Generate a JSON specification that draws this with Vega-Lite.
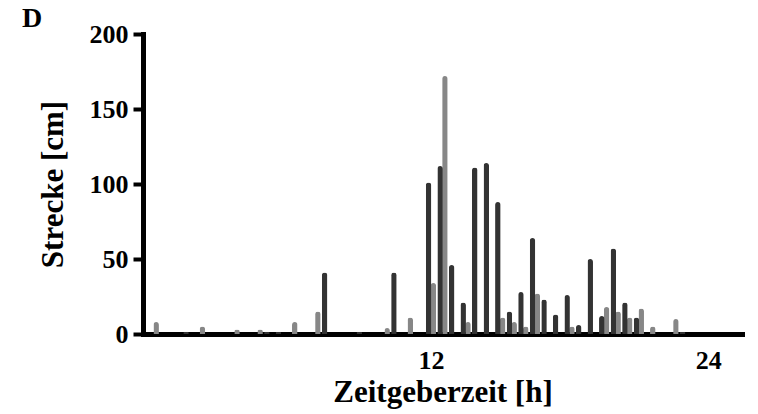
{
  "$schema": "https://vega.github.io/schema/vega-lite/v6.json",
  "width": 599,
  "height": 300,
  "autosize": {"type": "none"},
  "padding": {"left": 143, "top": 34, "right": 16, "bottom": 80},
  "background": "white",
  "title": {
    "text": "D",
    "anchor": "start",
    "frame": "group",
    "font": "Liberation Serif",
    "fontSize": 28,
    "fontWeight": "bold",
    "color": "black",
    "dx": -121,
    "dy": 12,
    "offset": 0
  },
  "config": {
    "view": {"stroke": null},
    "axis": {
      "grid": false,
      "zindex": 1,
      "domainColor": "black",
      "domainWidth": 5,
      "domainCap": "square",
      "tickColor": "black",
      "tickWidth": 4,
      "labelFont": "Liberation Serif",
      "labelFontWeight": "bold",
      "labelFontSize": 26,
      "labelColor": "black",
      "titleFont": "Liberation Serif",
      "titleFontWeight": "bold",
      "titleColor": "black"
    }
  },
  "data": {
    "values": [
      {"stunde": 1.5, "strecke": 1.5, "serie": "dunkel"},
      {"stunde": 5.0, "strecke": 1.5, "serie": "dunkel"},
      {"stunde": 5.5, "strecke": 1.5, "serie": "dunkel"},
      {"stunde": 7.5, "strecke": 41, "serie": "dunkel"},
      {"stunde": 9.0, "strecke": 1.5, "serie": "dunkel"},
      {"stunde": 10.5, "strecke": 41, "serie": "dunkel"},
      {"stunde": 12.0, "strecke": 101, "serie": "dunkel"},
      {"stunde": 12.5, "strecke": 112, "serie": "dunkel"},
      {"stunde": 13.0, "strecke": 46, "serie": "dunkel"},
      {"stunde": 13.5, "strecke": 21, "serie": "dunkel"},
      {"stunde": 14.0, "strecke": 111, "serie": "dunkel"},
      {"stunde": 14.5, "strecke": 114, "serie": "dunkel"},
      {"stunde": 15.0, "strecke": 88, "serie": "dunkel"},
      {"stunde": 15.5, "strecke": 15, "serie": "dunkel"},
      {"stunde": 16.0, "strecke": 28, "serie": "dunkel"},
      {"stunde": 16.5, "strecke": 64, "serie": "dunkel"},
      {"stunde": 17.0, "strecke": 23, "serie": "dunkel"},
      {"stunde": 17.5, "strecke": 13, "serie": "dunkel"},
      {"stunde": 18.0, "strecke": 26, "serie": "dunkel"},
      {"stunde": 18.5, "strecke": 6, "serie": "dunkel"},
      {"stunde": 19.0, "strecke": 50, "serie": "dunkel"},
      {"stunde": 19.5, "strecke": 12, "serie": "dunkel"},
      {"stunde": 20.0, "strecke": 57, "serie": "dunkel"},
      {"stunde": 20.5, "strecke": 21, "serie": "dunkel"},
      {"stunde": 21.0, "strecke": 11, "serie": "dunkel"},
      {"stunde": 23.0, "strecke": 1.5, "serie": "dunkel"},
      {"stunde": 0.0, "strecke": 8, "serie": "hell"},
      {"stunde": 2.0, "strecke": 5, "serie": "hell"},
      {"stunde": 3.5, "strecke": 3, "serie": "hell"},
      {"stunde": 4.5, "strecke": 3, "serie": "hell"},
      {"stunde": 6.0, "strecke": 8, "serie": "hell"},
      {"stunde": 7.0, "strecke": 15, "serie": "hell"},
      {"stunde": 10.0, "strecke": 4, "serie": "hell"},
      {"stunde": 11.0, "strecke": 11, "serie": "hell"},
      {"stunde": 12.0, "strecke": 34, "serie": "hell"},
      {"stunde": 12.5, "strecke": 172, "serie": "hell"},
      {"stunde": 13.5, "strecke": 8, "serie": "hell"},
      {"stunde": 15.0, "strecke": 11, "serie": "hell"},
      {"stunde": 15.5, "strecke": 8, "serie": "hell"},
      {"stunde": 16.0, "strecke": 5, "serie": "hell"},
      {"stunde": 16.5, "strecke": 27, "serie": "hell"},
      {"stunde": 18.0, "strecke": 5, "serie": "hell"},
      {"stunde": 19.5, "strecke": 18, "serie": "hell"},
      {"stunde": 20.0, "strecke": 15, "serie": "hell"},
      {"stunde": 20.5, "strecke": 11, "serie": "hell"},
      {"stunde": 21.0, "strecke": 17, "serie": "hell"},
      {"stunde": 21.5, "strecke": 5, "serie": "hell"},
      {"stunde": 22.5, "strecke": 10, "serie": "hell"}
    ]
  },
  "encoding": {
    "x": {
      "field": "stunde",
      "type": "quantitative",
      "scale": {"domain": [-0.25, 25.25], "nice": false, "zero": false},
      "axis": {
        "values": [12, 24],
        "title": "Zeitgeberzeit [h]",
        "titleFontSize": 31,
        "ticks": false,
        "tickSize": 0,
        "labelPadding": 13,
        "titlePadding": 4
      }
    },
    "y": {
      "field": "strecke",
      "type": "quantitative",
      "scale": {"domain": [0, 200], "nice": false},
      "axis": {
        "values": [0, 50, 100, 150, 200],
        "title": "Strecke [cm]",
        "titleFontSize": 31,
        "tickSize": 10,
        "labelPadding": 5,
        "titlePadding": 20
      }
    }
  },
  "layer": [
    {
      "transform": [{"filter": "datum.serie == 'hell'"}],
      "mark": {"type": "bar", "width": 5.5, "xOffset": 2.4, "color": "#878787", "cornerRadiusEnd": 2.75}
    },
    {
      "transform": [{"filter": "datum.serie == 'dunkel'"}],
      "mark": {"type": "bar", "width": 5.5, "xOffset": -2.4, "color": "#333333", "cornerRadiusEnd": 2.75}
    }
  ]
}
